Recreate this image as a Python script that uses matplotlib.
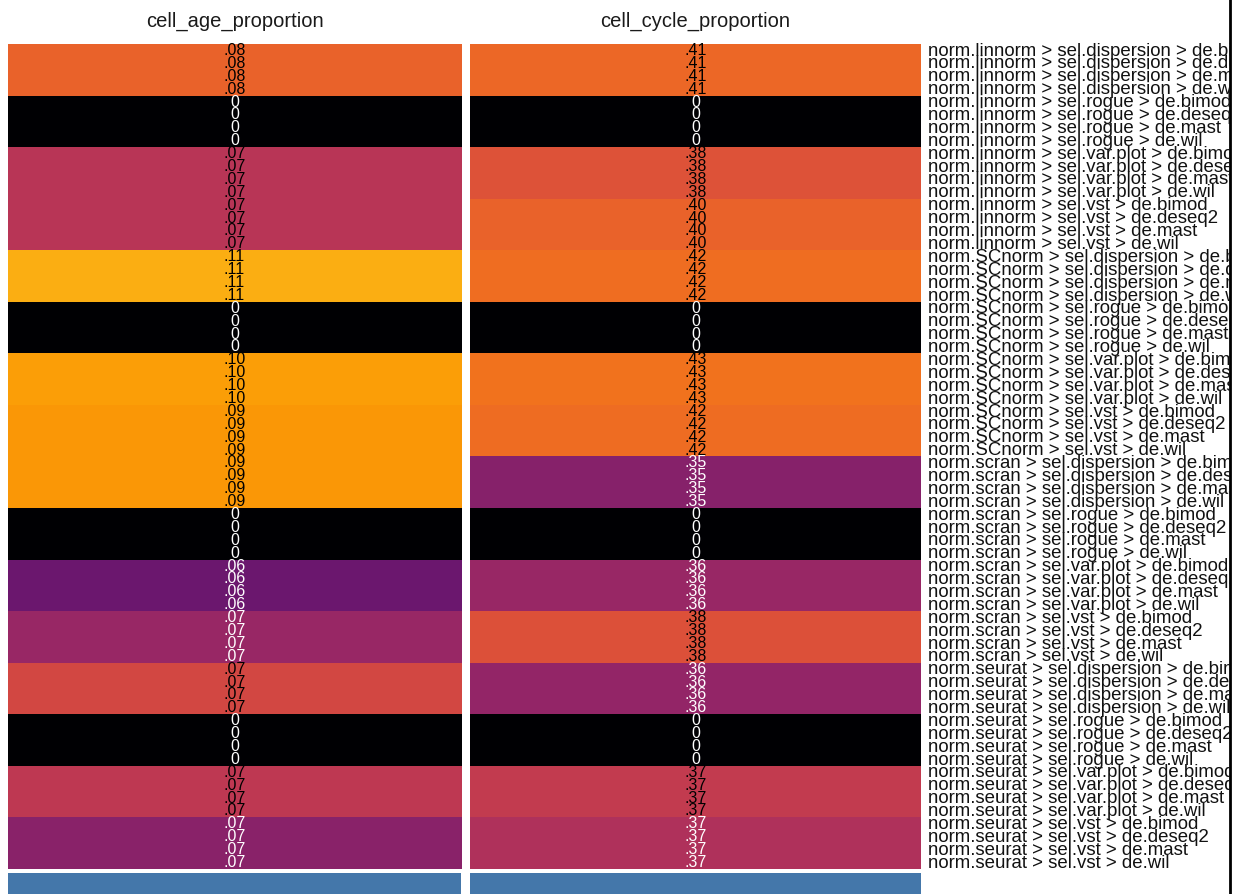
import itertools
import numpy as np
import matplotlib
matplotlib.use("Agg")
import matplotlib.pyplot as plt
from matplotlib.colors import FuncNorm
from matplotlib.transforms import blended_transform_factory

plt.rcParams['font.family'] = ['Liberation Sans', 'DejaVu Sans']

# pipeline steps: normalisation > feature selection > differential expression
norms = ["linnorm", "SCnorm", "scran", "seurat"]
sels = ["dispersion", "rogue", "var.plot", "vst"]
des = ["bimod", "deseq2", "mast", "wil"]

columns = ["cell_age_proportion", "cell_cycle_proportion"]

cell_age = [
    0.081, 0.081, 0.081, 0.081,
    0.0, 0.0, 0.0, 0.0,
    0.0703, 0.0703, 0.0703, 0.0703,
    0.0703, 0.0703, 0.0703, 0.0703,
    0.110, 0.110, 0.110, 0.110,
    0.0, 0.0, 0.0, 0.0,
    0.097, 0.097, 0.097, 0.097,
    0.091, 0.091, 0.091, 0.091,
    0.090, 0.090, 0.090, 0.090,
    0.0, 0.0, 0.0, 0.0,
    0.061, 0.061, 0.061, 0.061,
    0.067, 0.067, 0.067, 0.067,
    0.074, 0.074, 0.074, 0.074,
    0.0, 0.0, 0.0, 0.0,
    0.071, 0.071, 0.071, 0.071,
    0.0656, 0.0656, 0.0656, 0.0656,
]

cell_cycle = [
    0.410, 0.410, 0.410, 0.410,
    0.0, 0.0, 0.0, 0.0,
    0.381, 0.381, 0.381, 0.381,
    0.401, 0.401, 0.401, 0.401,
    0.420, 0.420, 0.420, 0.420,
    0.0, 0.0, 0.0, 0.0,
    0.430, 0.430, 0.430, 0.430,
    0.419, 0.419, 0.419, 0.419,
    0.352, 0.352, 0.352, 0.352,
    0.0, 0.0, 0.0, 0.0,
    0.362, 0.362, 0.362, 0.362,
    0.380, 0.380, 0.380, 0.380,
    0.360, 0.360, 0.360, 0.360,
    0.0, 0.0, 0.0, 0.0,
    0.374, 0.374, 0.374, 0.374,
    0.370, 0.370, 0.370, 0.370,
]

# colour scale knots (value -> position on the inferno palette)
age_knots = ([0.0, 0.06, 0.065, 0.07, 0.075, 0.08, 0.09, 0.11, 1.0],
             [0.0, 0.29, 0.36, 0.49, 0.59, 0.635, 0.77, 0.82, 1.0])
cycle_knots = ([0.0, 0.35, 0.36, 0.37, 0.38, 0.40, 0.43, 1.0],
               [0.0, 0.36, 0.40, 0.47, 0.60, 0.65, 0.69, 1.0])

row_labels = [f"norm.{n} > sel.{s} > de.{d}"
              for n, s, d in itertools.product(norms, sels, des)]


def make_norm(knots):
    xs, ts = knots
    fwd = lambda v: np.interp(v, xs, ts)
    inv = lambda t: np.interp(t, ts, xs)
    return FuncNorm((fwd, inv), vmin=0, vmax=1)


def fmt(v):
    if v == 0:
        return "0"
    return f"{v:.2f}".lstrip("0")


W, H = 1241, 894
fig = plt.figure(figsize=(W / 100, H / 100), dpi=100)

top, bot = 44, 869
col_x = [(8, 461), (470, 921)]
n = len(row_labels)

heat_axes = []
for (x0, x1), name, vals, knots in zip(col_x, columns, [cell_age, cell_cycle],
                                       [age_knots, cycle_knots]):
    ax = fig.add_axes([x0 / W, 1 - bot / H, (x1 - x0) / W, (bot - top) / H])
    norm = make_norm(knots)
    vals = np.asarray(vals)
    ax.imshow(vals.reshape(-1, 1), cmap="inferno", norm=norm, aspect="auto",
              interpolation="nearest")
    ax.set_xlim(-0.5, 0.5)
    ax.set_ylim(n - 0.5, -0.5)
    ax.axis("off")
    for i, v in enumerate(vals):
        tc = "black" if norm(v) > 0.48 else "white"
        ax.text(0, i, fmt(v), ha="center", va="center", fontsize=11.5,
                color=tc)
    fig.text((x0 + x1) / 2 / W, 1 - 21 / H, name, ha="center", va="center",
             fontsize=14.5, color="#1a1a1a")
    # group header bar underneath
    fig.add_artist(plt.Rectangle((x0 / W, 0), (x1 - x0) / W, 1 - 873 / H,
                                 transform=fig.transFigure,
                                 facecolor="#4477AA", edgecolor="none"))
    heat_axes.append(ax)

# row labels panel, clipped at its right border
lab_ax = fig.add_axes([925 / W, 0, (1230 - 925) / W, 1])
lab_ax.set_xlim(0, 1)
lab_ax.set_ylim(0, 1)
for s in ["top", "bottom", "left"]:
    lab_ax.spines[s].set_visible(False)
lab_ax.spines["right"].set_linewidth(2)
lab_ax.spines["right"].set_color("black")
lab_ax.set_xticks([])
lab_ax.set_yticks([])
lab_ax.patch.set_alpha(0)
tr = blended_transform_factory(lab_ax.transAxes, heat_axes[0].transData)
for i, lab in enumerate(row_labels):
    lab_ax.text(3 / 305, i + 0.05, lab, transform=tr, ha="left", va="center",
                fontsize=13.4, color="#111111", clip_on=True)

fig.savefig("out.png", dpi=100)
